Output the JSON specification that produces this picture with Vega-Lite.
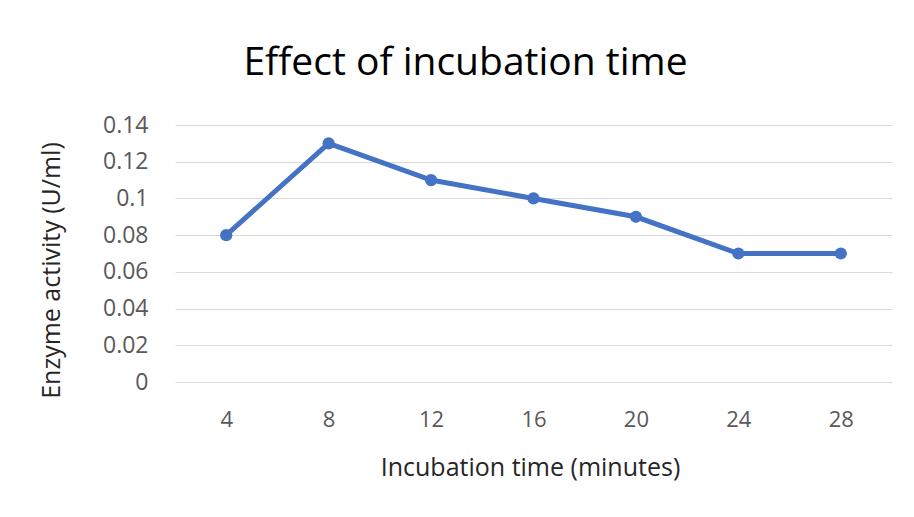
{
  "$schema": "https://vega.github.io/schema/vega-lite/v6.json",
  "width": 717,
  "height": 257,
  "autosize": {"type": "none"},
  "padding": {"left": 175, "top": 125, "right": 22, "bottom": 135},
  "background": "white",
  "title": {
    "text": "Effect of incubation time",
    "font": "Open Sans",
    "fontSize": 39,
    "fontWeight": "normal",
    "color": "#000000",
    "anchor": "middle",
    "frame": "group",
    "dx": -68,
    "offset": 31
  },
  "data": {
    "values": [
      {"time": "4", "activity": 0.08},
      {"time": "8", "activity": 0.13},
      {"time": "12", "activity": 0.11},
      {"time": "16", "activity": 0.10},
      {"time": "20", "activity": 0.09},
      {"time": "24", "activity": 0.07},
      {"time": "28", "activity": 0.07}
    ]
  },
  "encoding": {
    "x": {
      "field": "time",
      "type": "ordinal",
      "sort": null,
      "scale": {"type": "point", "padding": 0.5},
      "axis": {
        "title": "Incubation time (minutes)",
        "labelAngle": 0,
        "labelFont": "Open Sans",
        "labelFontSize": 22,
        "labelColor": "#595959",
        "labelPadding": 27,
        "ticks": false,
        "domain": false,
        "grid": false,
        "titleFont": "Open Sans",
        "titleFontSize": 25,
        "titleFontWeight": "normal",
        "titleColor": "#262626",
        "titlePadding": 25,
        "titleX": 355
      }
    },
    "y": {
      "field": "activity",
      "type": "quantitative",
      "scale": {"domain": [0, 0.14], "nice": false},
      "axis": {
        "title": "Enzyme  activity (U/ml)",
        "values": [0, 0.02, 0.04, 0.06, 0.08, 0.1, 0.12, 0.14],
        "format": "~g",
        "labelFont": "Open Sans",
        "labelFontSize": 23,
        "labelColor": "#595959",
        "labelPadding": 27,
        "ticks": false,
        "domain": false,
        "grid": true,
        "gridColor": "#d9d9d9",
        "gridWidth": 1.2,
        "titleFont": "Open Sans",
        "titleFontSize": 25,
        "titleFontWeight": "normal",
        "titleColor": "#262626",
        "titlePadding": 38,
        "titleY": 145
      }
    }
  },
  "layer": [
    {"mark": {"type": "line", "color": "#4472C4", "strokeWidth": 5}},
    {"mark": {"type": "point", "filled": true, "opacity": 1, "color": "#4472C4", "size": 150}}
  ],
  "config": {"view": {"stroke": null}}
}
